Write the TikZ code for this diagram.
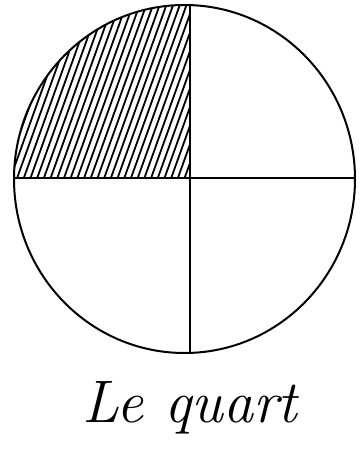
\documentclass[tikz,border=0pt]{standalone}
\tikzset{
    trait/.style={line width=2pt},
    hachure/.style={line width=1.8pt},
}
\begin{document}
\begin{tikzpicture}[x=1pt, y=-1pt]
        \useasboundingbox (0,0) rectangle (361,455);
        \coordinate (centre) at (190,178);
        % hachures du quart en haut a gauche
        \begin{scope}
            \clip (184.5,179) ellipse [x radius=170.5, y radius=174];
            \clip (centre) rectangle (0,0);
            \foreach \x in {-70,-63.3,...,200}
                \draw[hachure] (\x,178) -- ++(64,-178);
        \end{scope}
        \draw[trait] (184.5,179) ellipse [x radius=170.5, y radius=174];
        \begin{scope}
            \clip (184.5,179) ellipse [x radius=170.5, y radius=174];
            \draw[trait] (centre) -- (190,0) (centre) -- (190,360);
            \draw[trait] (centre) -- (0,178) (centre) -- (361,178);
        \end{scope}
        \node[font=\itshape\fontsize{60}{60}\selectfont] (titre) at (190,408) {Le quart};
    \end{tikzpicture}
\end{document}
